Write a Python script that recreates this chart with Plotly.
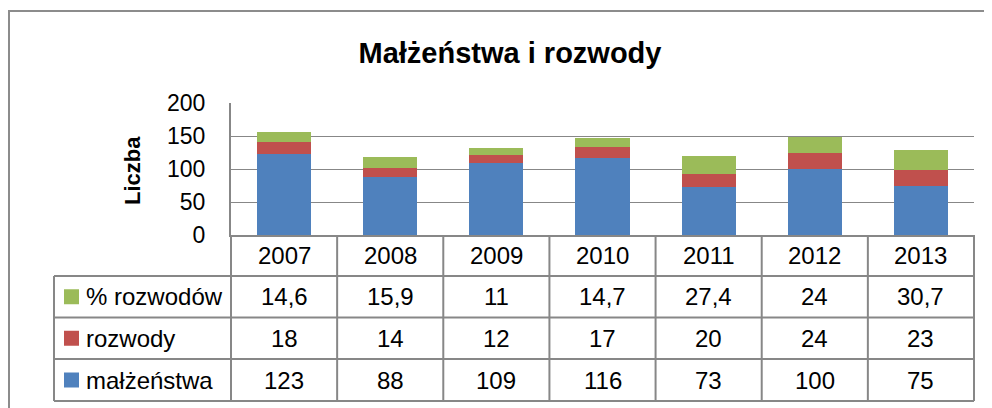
import plotly.graph_objects as go

years = ["2007", "2008", "2009", "2010", "2011", "2012", "2013"]
malzenstwa = [123, 88, 109, 116, 73, 100, 75]
rozwody = [18, 14, 12, 17, 20, 24, 23]
proc_rozwodow = [14.6, 15.9, 11, 14.7, 27.4, 24, 30.7]
series_names = ["małżeństwa", "rozwody", "% rozwodów"]
colors = ["#4F81BD", "#C0504D", "#9BBB59"]

# the page body adds an 8px margin; design in window pixels and shift
OFF = 8
W, H = 992, 408
PL, PR, PT, PB = 231, 974, 103, 235   # plot area in window pixels
ML, MT = PL - OFF, PT - OFF
MR = W - (PR - OFF)
MB = H - (PB - OFF)
PW = PR - PL
PH = PB - PT
GRAY = "#878787"
FONT = "Liberation Sans, Arial, sans-serif"

fig = go.Figure()
for name, vals, col in zip(series_names, [malzenstwa, rozwody, proc_rozwodow], colors):
    fig.add_trace(go.Bar(x=years, y=vals, name=name, marker=dict(color=col, line=dict(width=0)),
                         showlegend=False, hoverinfo="x+y+name"))

def py(px):  # window pixel y -> y-domain fraction
    return (PB - px) / PH

def pxf(px):  # window pixel x -> x-domain fraction
    return (px - PL) / PW

shapes = []
annotations = []
n = len(years)
row_top = PB
header_bottom = 276
rows_y = [276, 317.5, 359, 401]
table_left = 54

for i in range(n + 1):
    shapes.append(dict(type="line", xref="x domain", yref="y domain", x0=i / n, x1=i / n,
                       y0=py(row_top), y1=py(rows_y[-1]), line=dict(color=GRAY, width=2)))
shapes.append(dict(type="line", xref="x domain", yref="y domain", x0=pxf(table_left), x1=pxf(table_left),
                   y0=py(rows_y[0]), y1=py(rows_y[-1]), line=dict(color=GRAY, width=2)))
for yb in rows_y:
    shapes.append(dict(type="line", xref="x domain", yref="y domain", x0=pxf(table_left), x1=1,
                       y0=py(yb), y1=py(yb), line=dict(color=GRAY, width=2)))

for i, yr in enumerate(years):
    annotations.append(dict(xref="x domain", yref="y domain", x=(i + 0.5) / n,
                            y=py((row_top + header_bottom) / 2), text=yr, showarrow=False,
                            font=dict(family=FONT, size=24, color="#000000"), xanchor="center", yanchor="middle"))

table_rows = [("% rozwodów", proc_rozwodow, colors[2]), ("rozwody", rozwody, colors[1]),
              ("małżeństwa", malzenstwa, colors[0])]
for r, (label, vals, col) in enumerate(table_rows):
    yc = (rows_y[r] + rows_y[r + 1]) / 2
    shapes.append(dict(type="rect", xref="x domain", yref="y domain", x0=pxf(64), x1=pxf(79),
                       y0=py(yc - 7.5), y1=py(yc + 7.5), fillcolor=col, line=dict(width=0)))
    annotations.append(dict(xref="x domain", yref="y domain", x=pxf(84), y=py(yc), text=label,
                            showarrow=False, xanchor="left", yanchor="middle",
                            font=dict(family=FONT, size=24, color="#000000")))
    for i, v in enumerate(vals):
        txt = (f"{v:g}").replace(".", ",")
        annotations.append(dict(xref="x domain", yref="y domain", x=(i + 0.5) / n, y=py(yc), text=txt,
                                showarrow=False, xanchor="center", yanchor="middle",
                                font=dict(family=FONT, size=24, color="#000000")))

# outer chart border
shapes.append(dict(type="rect", xref="paper", yref="paper", x0=pxf(9), x1=pxf(W + 40),
                   y0=py(H + 40), y1=py(11), line=dict(color="#8C8C8C", width=2), fillcolor="rgba(0,0,0,0)",
                   layer="above"))

annotations.append(dict(xref="paper", yref="paper", x=pxf(132), y=py(170), text="<b>Liczba</b>",
                        textangle=-90, showarrow=False, xanchor="center", yanchor="middle",
                        font=dict(family=FONT, size=22, color="#000000")))

fig.update_layout(
    width=W, height=H,
    margin=dict(l=ML, r=MR, t=MT, b=MB, autoexpand=False),
    paper_bgcolor="white", plot_bgcolor="white",
    barmode="stack", bargap=0.49,
    title=dict(text="<b>Małżeństwa i rozwody</b>", x=(510 - OFF) / W, xref="container", xanchor="center",
               y=1 - (53 - OFF) / H, yref="container", yanchor="middle",
               font=dict(family=FONT, size=29, color="#000000")),
    xaxis=dict(showticklabels=False, ticks="", showline=True, linecolor=GRAY, linewidth=2,
               showgrid=False, zeroline=False, fixedrange=True),
    yaxis=dict(range=[0, 200], dtick=50, tick0=0, showgrid=True, gridcolor=GRAY, gridwidth=1,
               showline=True, linecolor=GRAY, linewidth=2, zeroline=False, ticks="",
               ticklabelstandoff=19, tickfont=dict(family=FONT, size=23, color="#000000"),
               fixedrange=True),
    shapes=shapes,
    annotations=annotations,
)

fig.write_html("out.html")
